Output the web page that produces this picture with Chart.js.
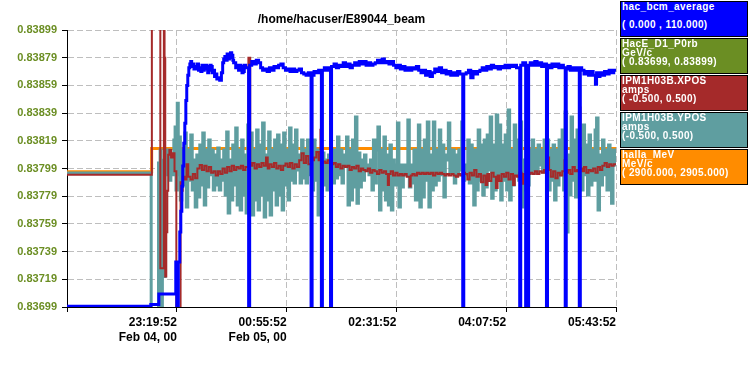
<!DOCTYPE html>
<html>
<head>
<meta charset="utf-8">
<script src="https://cdn.jsdelivr.net/npm/chart.js@4"></script>
<style>
  body { margin: 0; background: #fff; }
  #wrap { position: relative; width: 748px; height: 375px; }
  .key { position: absolute; left: 620px; width: 125px; height: 34px; border: 1px solid #000;
         color: #fff; font: bold 10px "Liberation Sans", Arial, sans-serif; letter-spacing: 0.4px;
         padding-left: 1px; overflow: hidden; }
  .key div { height: 9px; line-height: 9px; white-space: pre; }
</style>
</head>
<body>
<div id="wrap">
  <canvas id="strip" width="748" height="375"></canvas>
</div>
<script>
const chartTitle = "/home/hacuser/E89044_beam";

// time axis: minutes after 21:43:52 (Feb 04)
const xTickMinutes = [0, 96, 192, 288, 384, 480];
const xTickLabels = ["", ["23:19:52", "Feb 04, 00"], ["00:55:52", "Feb 05, 00"], "02:31:52", "04:07:52", "05:43:52"];
const yTicks = [0.83699, 0.83719, 0.83739, 0.83759, 0.83779, 0.83799, 0.83819, 0.83839, 0.83859, 0.83879, 0.83899];

// legend entries
const seriesNames = ["hac_bcm_average", "HacE_D1_P0rb", "IPM1H03B.XPOS", "IPM1H03B.YPOS", "halla_MeV"];
const seriesUnits = ["", "GeV/c", "amps", "amps", "MeV/c"];
const seriesRanges = ["( 0.000 , 110.000)", "( 0.83699, 0.83899)", "( -0.500, 0.500)", "(-0.500, 0.500)", "( 2900.000, 2905.000)"];
const seriesColors = ["#0000ff", "#6b8e23", "#a52a2a", "#5f9ea0", "#ff8c00"];

// [minute, value]
const bcmPoints = [
  [0,0.3],[73.3,1.0],[80.3,5.2],[95.1,17.9],[96.0,0],[97.3,17.9],[98.6,29.8],[99.5,38],[100.4,48],[101.2,56],
  [102.1,65],[103.0,73],[103.9,82],[104.7,88],[105.6,92],[106.5,95],[107.4,96.5],[108.2,97.5],[109,95.5],[110,96.5],[111,94.5],[112.6,95.5],
  [114,96.5],[115,94],[116,95],[117,93.5],[118,96],[119,94],[120,94.5],[121,96],[122,95.5],[123,93],[124,94],[125,96],[126,95.5],[127,93],[128,94],[129,91.5],[130,92.5],[131,90.5],[132,91],
  [133.5,90],[135,93],[136.1,97],[137,98.5],[138,99.5],[139,98],[140,100.5],[141,98.5],[142,99],[143,101],[144,100],[145,98],[145.7,97],[147.5,95],[149,96],[150,94],
  [151,96],[152,95.5],[153,93],[154,93.5],[155,96],[156.2,95],[158.8,0],[159.7,96],[161.5,97.5],[163.5,96.5],[165.5,98],[167.5,97],[169.3,95],
  [171,94],[173,94.5],[175,93.5],[177,95],[179,94],[181,95.5],[183,95],[185,96],[187,96.5],[189,95],
  [191,94],[193,94.5],[195,93.5],[197,94.5],[199,93.5],[201,94],[203,94.5],[205,93],[207,92.5],[209,92],
  [211,93],[213.4,0],[214.3,92],[216,93.5],[218,93],[220,94],[222.4,0],[223.3,94],[225,95],[227,94],
  [229,95],[230.4,0],[231.3,95.5],[233.5,96.5],[235.5,95],[237.5,96],[239.5,95.5],[241.5,97],[243.5,95.5],[245.5,96.5],
  [247.5,95],[249.5,96],[251.5,97],[253.5,96],[255.5,97.5],[257.5,96.5],[259.5,97.5],[261.5,96],[263.5,97],[265.5,96],
  [267.5,96.5],[269.5,97],[271.5,98],[273.5,97],[275.5,98.5],[277.5,97],[279.5,97.5],[281.5,96.5],[283.5,97.5],[285.5,96],
  [287.5,95],[289.5,96],[291.5,94.5],[293.5,95.5],[295.5,94],[297.5,95],[299.5,94],[301.5,95],[303.5,94.5],[305.5,95.5],
  [307.5,94],[309.5,93],[311.5,94],[313.5,92],[315.5,93.5],[317.5,91.5],[319.5,93],[321.5,94.5],[323.5,93.5],[325.5,95],
  [327.5,93],[329.5,94],[331.5,92.5],[333.5,93.5],[335.5,92],[337.5,93],[339.5,92],[341.5,93.5],[343.5,92.5],[346.0,0],
  [346.9,92.5],[349,93],[351,94],[353,91],[355,93.5],[357,92.5],[359,93.5],[361,94],[363,95],[365,94],
  [367,95.5],[369,94.5],[371,96],[373,95],[375,95.5],[377,94.5],[379,95.5],[381,95],[383,96],[385,95],
  [387,96],[389,95.5],[391,96],[393,95],[395.8,0],[396.7,96],[398.5,97],[401.0,0],[401.8,95.5],[402.6,0],
  [403.6,96],[405,97],[407,96],[409,97.5],[411,96],[413,97],[415,95.5],[417,96.5],[419.2,0],[420.1,96],
  [422,95],[424,96.5],[426,95.5],[428,96.5],[430,95],[432,96],[434,95],[435.6,0],[436.5,94.5],[438,95.5],
  [440,94],[442,95],[444,94],[446,95],[447.9,0],[448.8,95],[450,94],[452,92.5],[454,93.5],[456,92],
  [458,93.5],[460,92],[462,88.5],[463,93],[464,91.5],[466,93],[468,92],[470,93.5],[472,92.5],[474,94],
  [476,93],[478,94],[480,93.5]
];

const xposPoints = [
  [0,-0.023],[74.2,0.7],[81.6,-0.36],[84.7,0.7],[85.3,0.4],[85.9,-0.39],[86.8,-0.23],[87.7,-0.08],[88.5,0.05],[89.5,0.067],
  [91.0,0.04],[92.5,0.055],[94.0,-0.01],[95.6,-0.6],[99.3,-0.05],[100.2,-0.08],[101.2,-0.03],[103,-0.04],[104.5,0.015],[106,-0.03],
  [108,-0.04],[110,-0.02],[112,-0.035],[114,0.0],[116,0.013],[118,-0.005],[120,0.01],[122,-0.01],[124,0.005],[126,-0.015],
  [128,-0.01],[130,-0.025],[132,-0.01],[134,-0.02],[136,0.0],[138,-0.015],[140,0.005],[142,-0.01],[144,0.01],[146,-0.005],
  [148,0.005],[150,0.0],[152,0.01],[154,-0.005],[156,0.005],[158.6,0.4],[160.2,0.01],[162,0.02],[164,0.0],[166,0.015],
  [168,0.005],[170,0.02],[172,0.01],[174,0.04],[175.5,0.0],[177,0.015],[179,0.005],[181,0.02],[183,0.0],[185,0.01],
  [187,-0.005],[189,0.01],[191,0.018],[193,0.005],[195,0.02],[197,0.0],[199,0.015],[201,0.005],[203,0.03],[205,0.055],
  [207,0.02],[209,0.045],[211,0.015],[213.4,0.24],[214.2,0.03],[216,0.04],[218,0.06],[220,0.03],[221.6,0.14],[222.4,0.02],
  [224,0.025],[226,0.02],[228,0.03],[230.2,-0.12],[231,0.015],[233,0.02],[235,0.005],[237,0.015],[239,0.0],[241,0.01],
  [243,0.005],[245,0.01],[247,-0.005],[249,0.005],[251,0.0],[253,0.01],[255,-0.01],[257,0.0],[259,-0.005],[261,-0.01],
  [263,0.0],[265,-0.015],[267,-0.005],[269,-0.01],[271,-0.02],[273,-0.005],[275,-0.015],[277,-0.01],[279,-0.02],[280.5,-0.06],
  [281.5,-0.02],[283,-0.01],[285,-0.025],[287,-0.015],[289,-0.025],[291,-0.02],[293,-0.025],[295,-0.02],[297,-0.03],[299.5,-0.065],
  [300.5,-0.025],[302,-0.02],[304,-0.025],[306,-0.015],[308,-0.02],[310,-0.015],[312,-0.02],[314,-0.015],[316,-0.02],[318,-0.015],
  [320,-0.025],[322,-0.015],[324,-0.02],[326,-0.015],[328,-0.02],[330,-0.025],[332,-0.02],[334,-0.025],[336,-0.02],[338,-0.025],
  [340,-0.03],[342,-0.02],[344,-0.025],[346,-0.015],[348,-0.02],[350,-0.04],[352,-0.015],[354,-0.025],[356,-0.005],[358,-0.03],
  [360,-0.02],[362,-0.05],[364,-0.025],[366,-0.06],[367.5,-0.02],[369,-0.045],[371,-0.015],[373,-0.03],[375,-0.07],[376.5,-0.025],
  [378,-0.045],[380,-0.02],[382,-0.03],[384,-0.015],[386,-0.04],[388,-0.02],[390,-0.06],[391.5,-0.025],[393.5,-0.03],[395.5,-0.015],
  [397.5,-0.055],[399,-0.02],[401.5,0.21],[402.3,-0.05],[403.5,-0.02],[405,-0.015],[407,-0.02],[409,-0.01],[411,-0.02],[413,-0.01],
  [415,-0.015],[417,-0.005],[419,0.11],[420,0.04],[421.5,-0.005],[423,-0.03],[425,-0.01],[427,-0.035],[429,-0.015],[431,-0.025],
  [433,-0.01],[435,0.03],[436.5,-0.015],[438,-0.005],[440,-0.02],[442,0.005],[444,-0.01],[446,-0.005],[448,0.22],[448.9,0.0],
  [450.5,-0.01],[452,0.005],[454,-0.015],[456,-0.005],[458,-0.01],[460,0.0],[462,-0.015],[464,0.005],[466,-0.005],[468,0.01],
  [470,0.02],[472,0.005],[474,0.015],[476,0.01],[478,0.015],[480,0.012]
];

const yposPoints = [
  [0,-0.016],[73.6,-0.6],[80.0,0.02],[80.8,-0.45],[81.4,0.067],[82.3,-0.6],[83.4,0.03],[84.9,-0.39],[85.8,0.067],[87.3,-0.023],
  [88.1,0.067],[89.5,-0.042],[90.8,0.049],[92.1,-0.023],[93.4,0.103],[94.5,0.15],[95.3,-0.078],[96.4,0.236],[97.3,-0.023],[98.2,0.114],
  [99.1,-0.114],[100.4,0.067],[101.7,-0.06],[103.0,0.128],[104.3,-0.139],[105.6,0.067],[106.9,-0.042],[108.2,0.121],[109.5,-0.078],[110.8,0.031],
  [112.1,-0.139],[113.5,0.049],[114.8,-0.103],[116.1,0.085],[117.4,-0.06],[118.7,0.128],[120.0,-0.132],[121.3,0.067],[122.6,-0.067],[123.9,0.103],
  [125.2,-0.023],[126.5,0.067],[127.9,-0.078],[129.2,0.049],[130.5,-0.06],[131.8,0.074],[133.1,-0.078],[134.4,0.031],[135.7,-0.042],[137.0,0.067],
  [138.3,-0.096],[139.6,0.132],[140.9,-0.161],[142.3,0.031],[143.6,-0.114],[144.9,0.085],[146.2,-0.06],[147.5,0.146],[148.8,-0.132],[150.1,0.067],
  [151.4,-0.15],[152.7,0.103],[154.0,-0.096],[155.3,0.049],[156.6,-0.161],[158.0,0.157],[159.3,-0.042],[160.6,0.128],[161.9,-0.168],[163.2,0.067],
  [164.5,-0.114],[165.8,0.139],[167.1,-0.15],[168.4,0.085],[169.7,-0.096],[171.0,0.164],[172.4,-0.175],[173.7,0.049],[175.0,-0.114],[176.3,0.132],
  [177.6,-0.168],[178.9,0.067],[180.2,-0.078],[181.5,0.103],[182.8,-0.132],[184.1,0.121],[185.4,-0.096],[186.8,0.085],[188.1,-0.15],[189.4,0.128],
  [190.7,-0.06],[192.0,0.067],[193.3,-0.114],[194.6,0.146],[195.9,-0.042],[197.2,0.085],[198.5,-0.052],[199.8,0.139],[201.1,-0.005],[202.5,0.049],
  [203.8,-0.052],[205.1,0.103],[206.4,-0.034],[207.7,0.067],[209.0,-0.052],[210.3,0.103],[211.6,-0.023],[212.9,0.085],[214.2,-0.078],[215.6,0.103],
  [216.9,-0.042],[218.2,0.067],[219.5,-0.168],[220.8,0.049],[222.1,-0.078],[223.4,0.056],[224.7,-0.06],[226.0,0.031],[227.3,-0.078],[228.6,0.049],
  [230.0,-0.042],[231.3,0.067],[232.6,-0.052],[233.9,0.067],[235.2,-0.034],[236.5,0.114],[237.8,-0.023],[239.1,0.067],[240.4,-0.052],[241.7,0.049],
  [243.1,0.013],[244.4,0.114],[245.7,-0.132],[247.0,0.067],[248.3,-0.114],[249.6,0.103],[250.9,-0.067],[252.2,0.186],[253.5,-0.125],[254.8,0.056],
  [256.1,-0.067],[257.4,0.031],[258.8,-0.042],[260.1,0.049],[261.4,-0.005],[262.7,0.013],[264.0,-0.023],[265.3,0.031],[266.6,-0.078],[267.9,0.103],
  [269.2,-0.052],[270.5,0.067],[271.8,0.15],[273.2,-0.15],[274.5,0.067],[275.8,-0.078],[277.1,0.114],[278.4,-0.114],[279.7,0.049],[281.0,-0.132],
  [282.3,0.085],[283.6,-0.15],[284.9,0.031],[286.2,-0.06],[287.6,0.013],[288.9,0.164],[290.2,-0.139],[291.5,0.013],[292.8,-0.067],[294.1,0.013],
  [295.4,-0.023],[296.7,0.013],[298.0,0.175],[299.3,-0.067],[300.7,0.013],[302.0,-0.052],[303.3,0.067],[304.6,-0.114],[305.9,0.031],[307.2,0.157],
  [308.5,-0.139],[309.8,0.067],[311.1,-0.103],[312.4,0.103],[313.7,-0.042],[315.0,0.168],[316.4,-0.139],[317.7,0.049],[319.0,-0.078],[320.3,0.168],
  [321.6,-0.06],[322.9,0.067],[324.2,-0.042],[325.5,0.139],[326.8,-0.023],[328.1,0.085],[329.5,-0.103],[330.8,0.049],[332.1,0.031],[333.4,0.164],
  [334.7,-0.016],[336.0,0.049],[337.3,0.067],[338.6,-0.052],[339.9,0.049],[341.2,-0.023],[342.5,0.067],[343.8,-0.005],[345.1,0.168],[346.5,-0.042],
  [347.8,0.013],[349.1,-0.023],[350.4,0.103],[351.7,-0.052],[353.0,0.085],[354.3,-0.023],[355.6,-0.132],[356.9,0.067],[358.2,-0.078],[359.5,0.139],
  [360.9,-0.042],[362.2,0.085],[363.5,-0.096],[364.8,0.103],[366.1,-0.067],[367.4,0.121],[368.7,-0.005],[370.0,0.186],[371.3,-0.107],[372.6,0.085],
  [373.9,-0.078],[375.3,0.193],[376.6,-0.023],[377.9,0.157],[379.2,-0.114],[380.5,0.085],[381.8,-0.042],[383.1,0.121],[384.4,-0.078],[385.7,0.211],
  [387.0,-0.114],[388.4,0.067],[389.7,-0.06],[391.0,0.157],[392.3,-0.023],[393.6,0.103],[394.9,-0.042],[396.2,0.168],[397.5,-0.139],[398.8,0.031],
  [400.1,-0.078],[401.4,0.139],[402.7,-0.06],[404.1,0.067],[405.4,-0.016],[406.7,0.103],[408.0,-0.005],[409.3,0.067],[410.6,-0.016],[411.9,0.085],
  [413.2,0.013],[414.5,0.067],[415.8,-0.013],[417.1,0.103],[418.5,0.013],[419.8,0.103],[421.1,-0.078],[422.4,0.067],[423.7,-0.042],[425.0,0.085],
  [426.3,-0.114],[427.6,0.067],[428.9,-0.06],[430.2,0.103],[431.6,-0.023],[432.9,0.139],[434.2,-0.078],[435.5,0.204],[436.8,-0.229],[438.1,0.049],
  [439.4,-0.096],[440.7,0.186],[442.0,-0.042],[443.3,0.103],[444.6,-0.103],[445.9,0.139],[447.3,-0.023],[448.6,0.067],[449.9,-0.078],[451.2,0.157],
  [452.5,-0.023],[453.8,0.085],[455.1,-0.096],[456.4,0.121],[457.7,-0.06],[459.0,0.067],[460.4,-0.042],[461.7,0.139],[463.0,0.182],[464.3,-0.15],
  [465.6,0.049],[466.9,-0.06],[468.2,0.103],[469.5,-0.023],[470.8,0.067],[472.1,-0.078],[473.5,0.085],[474.8,-0.023],[476.1,-0.125],[477.4,0.067],
  [478.7,0.013],[480,0.013]
];

const mevPoints = [[0, 2902.44], [74.0, 2902.86], [480, 2902.86]];

// legend boxes
const wrap = document.getElementById("wrap");
seriesNames.forEach((name, i) => {
    const box = document.createElement("div");
    box.className = "key";
    box.style.top = (1 + i * 37) + "px";
    box.style.background = seriesColors[i];
    [name, seriesUnits[i], seriesRanges[i]].forEach((line) => {
        const row = document.createElement("div");
        row.textContent = line;
        box.appendChild(row);
    });
    wrap.appendChild(box);
});

function toXY(points) {
    return points.map((p) => ({ x: p[0], y: p[1] }));
}

// draws the title centred over the plot area
const titlePlugin = {
    id: "stripTitle",
    afterDraw(chart) {
        const { ctx, chartArea } = chart;
        ctx.save();
        ctx.font = 'bold 12px "Liberation Sans", Arial, sans-serif';
        ctx.fillStyle = "#000";
        ctx.textAlign = "center";
        ctx.textBaseline = "middle";
        ctx.fillText(chartTitle, (chartArea.left + chartArea.right) / 2, 20);
        ctx.restore();
    }
};

const lineSet = (label, points, color, width, axis) => ({
    label: label,
    data: toXY(points),
    borderColor: color,
    borderWidth: width,
    stepped: true,
    pointRadius: 0,
    fill: false,
    yAxisID: axis
});

const gridStyle = { color: "#bebebe", tickColor: "#000", tickLength: 5, lineWidth: 1 };
const borderStyle = { color: "#000", width: 1, dash: [6, 3] };

new Chart(document.getElementById("strip"), {
    type: "line",
    data: {
        datasets: [
            lineSet(seriesNames[0], bcmPoints, seriesColors[0], 3, "yBcm"),
            lineSet(seriesNames[2], xposPoints, seriesColors[2], 2, "yXpos"),
            lineSet(seriesNames[3], yposPoints, seriesColors[3], 3, "yYpos"),
            lineSet(seriesNames[4], mevPoints, seriesColors[4], 3, "yMev")
        ]
    },
    options: {
        responsive: false,
        animation: false,
        layout: { padding: { top: 30, right: 132, left: 0, bottom: 0 } },
        plugins: { legend: { display: false }, tooltip: { enabled: false }, title: { display: false } },
        elements: { line: { borderCapStyle: "butt", borderJoinStyle: "miter", tension: 0 } },
        scales: {
            x: {
                type: "linear",
                min: 0,
                max: 480,
                afterFit: (s) => { s.height = 68; },
                afterBuildTicks: (s) => { s.ticks = xTickMinutes.map((v) => ({ value: v })); },
                ticks: {
                    autoSkip: false,
                    maxRotation: 0,
                    align: "end",
                    padding: 3,
                    color: "#000",
                    font: { family: '"Liberation Sans", Arial, sans-serif', size: 12, weight: "bold", lineHeight: 1.25 },
                    callback: (value) => xTickLabels[xTickMinutes.indexOf(value)]
                },
                grid: gridStyle,
                border: borderStyle
            },
            y: {
                type: "linear",
                position: "left",
                min: 0.83699,
                max: 0.83899,
                afterFit: (s) => { s.width = 67; },
                afterBuildTicks: (s) => { s.ticks = yTicks.map((v) => ({ value: v })); },
                ticks: {
                    autoSkip: false,
                    padding: 5,
                    color: "#6b8e23",
                    font: { family: '"Liberation Sans", Arial, sans-serif', size: 11, weight: "bold" },
                    callback: (value) => value.toFixed(5)
                },
                grid: gridStyle,
                border: borderStyle
            },
            yBcm: { type: "linear", display: false, min: 0, max: 110 },
            yXpos: { type: "linear", display: false, min: -0.5, max: 0.5 },
            yYpos: { type: "linear", display: false, min: -0.5, max: 0.5 },
            yMev: { type: "linear", display: false, min: 2900, max: 2905 }
        }
    },
    plugins: [titlePlugin]
});
</script>
</body>
</html>
